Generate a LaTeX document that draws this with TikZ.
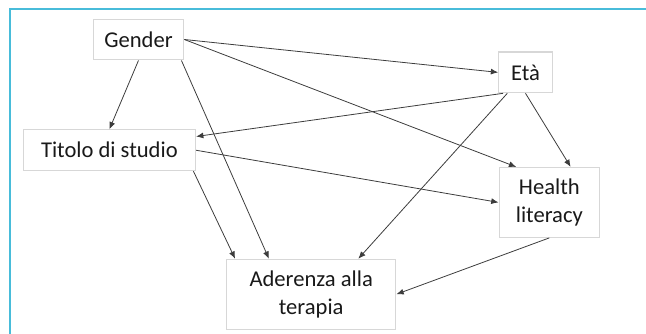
\documentclass[tikz,border=0pt]{standalone}
\usepackage{fontspec}
\setmainfont{Carlito}
\usetikzlibrary{arrows.meta}

\definecolor{framecyan}{RGB}{72,188,218}
\definecolor{boxgray}{RGB}{215,215,215}
\definecolor{arrowgray}{RGB}{60,60,60}

\tikzstyle{box} = [rectangle, minimum height=1.08cm, text centered, align=center, draw=boxgray, line width=0.8pt, font=\fontsize{17}{21}\selectfont, text=black!90]
\tikzstyle{box-tall} = [box, minimum height=1.85cm]
\tikzstyle{arrow} = [line width=0.6pt, draw=arrowgray, ->, >={Latex[length=5.5pt,width=4.5pt]}]
\tikzstyle{frame} = [line width=1.6pt, draw=framecyan]

\begin{document}
\begin{tikzpicture}
  \useasboundingbox (0,0) rectangle (17.092,-8.837);
  \draw [frame] (0.265,-8.837) -- (0.265,-0.238) -- (17.092,-0.238);

  \node (gender) [box, minimum width=2.40cm] at (3.664,-1.045) {Gender};
  \node (titolo) [box, minimum width=4.56cm, below of=gender, yshift=-1.93cm, xshift=-0.77cm] {Titolo di studio};
  \node (eta) [box, minimum width=1.42cm, right of=gender, xshift=9.24cm, yshift=-0.87cm] {Età};
  \node (health) [box-tall, minimum width=2.66cm, below of=eta, yshift=-2.44cm, xshift=0.63cm] {Health\\literacy};
  \node (aderenza) [box-tall, minimum width=4.48cm, below of=titolo, yshift=-2.81cm, xshift=5.34cm] {Aderenza alla\\terapia};

  \draw [arrow] (gender.east) -- (eta.west);
  \draw [arrow] (gender.east) -- (health.133);
  \draw [arrow] (gender.south) -- (titolo.north);
  \draw [arrow] (gender.-26) -- (aderenza.140);
  \draw [arrow] (eta.-137) -- (titolo.9);
  \draw [arrow] (eta.south) -- (health.59);
  \draw [arrow] (eta.-131) -- (aderenza.37);
  \draw [arrow] (titolo.east) -- (health.west);
  \draw [arrow] (titolo.-14) -- (aderenza.155);
  \draw [arrow] (health.south) -- (aderenza.east);
\end{tikzpicture}
\end{document}
